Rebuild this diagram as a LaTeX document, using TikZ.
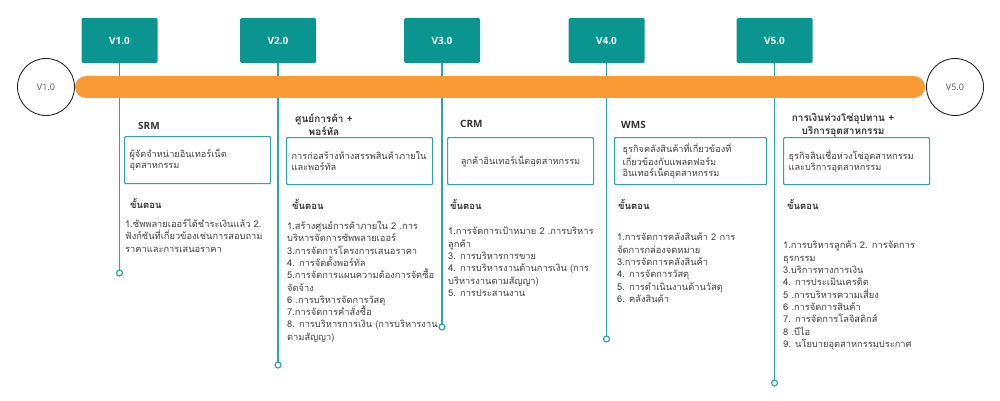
\documentclass[tikz,border=0pt]{standalone}
\usepackage{fontspec}
\setmainfont{Open Sans}
\newfontfamily\thaifont[Script=Thai]{Loma}
\usetikzlibrary{positioning}

\definecolor{tealbox}{HTML}{0A9590}
\definecolor{tealline}{HTML}{2BA6A2}
\definecolor{barorange}{HTML}{F99A32}
\definecolor{bodytext}{HTML}{404040}

\tikzset{
  verbox/.style={fill=tealbox, rounded corners=1.5pt, minimum width=76pt, minimum height=45pt,
    text=white, font=\bfseries\fontsize{10}{12}\selectfont},
  endcircle/.style={circle, draw=black!85, line width=0.9pt, minimum size=57pt,
    text=black!65, font=\fontsize{9}{11}\selectfont},
  stem/.style={draw=tealline, line width=1.2pt},
  enddot/.style={circle, draw=tealline, fill=white, line width=1.2pt, inner sep=0pt, minimum size=6pt},
  topic/.style={inner sep=0pt, align=center, text=black!80, font=\bfseries\fontsize{10}{13}\selectfont},
  thaitopic/.style={topic, font=\thaifont\bfseries\fontsize{10}{13}\selectfont},
  descbox/.style={draw=tealline, line width=1.2pt, rounded corners=1pt, anchor=north west,
    minimum width=146pt, minimum height=47pt, text width=136pt, inner xsep=4pt, align=left,
    text=bodytext, font=\thaifont\fontsize{9.2}{11}\selectfont},
  stephead/.style={anchor=west, inner sep=0pt, text=black!80, font=\thaifont\bfseries\fontsize{9.5}{11}\selectfont},
  steplist/.style={anchor=north west, inner sep=0pt, align=left,
    text=bodytext, font=\thaifont\fontsize{9.3}{12.3}\selectfont},
}

\begin{document}
\begin{tikzpicture}[x=1pt, y=-1pt]
    \useasboundingbox (0,0) rectangle (1000,401);

    %% version boxes on top, stems down to a small open dot
    \node[verbox] (v1) at (119.5,40.5) {V1.0};
    \node[verbox] (v2) at (278,40.5) {V2.0};
    \node[verbox] (v3) at (442,40.5) {V3.0};
    \node[verbox] (v4) at (606.5,40.5) {V4.0};
    \node[verbox] (v5) at (774.5,40.5) {V5.0};

    \coordinate (e1) at (119.5,273);
    \coordinate (e2) at (278,365);
    \coordinate (e3) at (442,327);
    \coordinate (e4) at (606.5,339);
    \coordinate (e5) at (774.5,383);

    \foreach \i in {1,...,5} {
        \draw[stem] (v\i.south) -- (e\i);
        \node[enddot] at (e\i) {};
    }

    %% the orange time bar goes over the stems
    \node[fill=barorange, rounded corners=11pt, minimum width=850pt, minimum height=22pt, inner sep=0pt] (bar) at (500,87) {};
    \node[endcircle] (start) at (46,87) {V1.0};
    \node[endcircle] (finish) at (955,87) {V5.0};

    %% V1.0
    \node[topic, anchor=west] (t1) at (138,126) {SRM};
    \node[descbox] (d1) at (124,136) {ผู้จัดจำหน่ายอินเทอร์เน็ต\\อุตสาหกรรม};
    \node[stephead] (h1) at (130,203) {ขั้นตอน};
    \node[steplist] (s1) at (125,219) {1.ซัพพลายเออร์ได้ชำระเงินแล้ว 2.\\ฟังก์ชันที่เกี่ยวข้องเช่นการสอบถาม\\ราคาและการเสนอราคา};

    %% V2.0
    \node[thaitopic] (t2) at (324,125) {ศูนย์การค้า +\\พอร์ทัล};
    \node[descbox] (d2) at (286,137) {การก่อสร้างห้างสรรพสินค้าภายใน\\และพอร์ทัล};
    \node[stephead] (h2) at (292,204) {ขั้นตอน};
    \node[steplist] (s2) at (287,221) {1.สร้างศูนย์การค้าภายใน 2 .การ\\บริหารจัดการซัพพลายเออร์\\3.การจัดการโครงการเสนอราคา\\4. การจัดตั้งพอร์ทัล\\5.การจัดการแผนความต้องการจัดซื้อ\\จัดจ้าง\\6 .การบริหารจัดการวัสดุ\\7.การจัดการคำสั่งซื้อ\\8. การบริหารการเงิน (การบริหารงาน\\ตามสัญญา)};

    %% V3.0
    \node[topic, anchor=west] (t3) at (460,124) {CRM};
    \node[descbox, align=center] (d3) at (447,137) {ลูกค้าอินเทอร์เน็ตอุตสาหกรรม};
    \node[stephead] (h3) at (450,204) {ขั้นตอน};
    \node[steplist] (s3) at (448,227) {1.การจัดการเป้าหมาย 2 .การบริหาร\\ลูกค้า\\3. การบริหารการขาย\\4. การบริหารงานด้านการเงิน (การ\\บริหารงานตามสัญญา)\\5. การประสานงาน};

    %% V4.0
    \node[topic, anchor=west] (t4) at (621,125) {WMS};
    \node[descbox, inner xsep=8pt] (d4) at (614,137) {ธุรกิจคลังสินค้าที่เกี่ยวข้องที่\\เกี่ยวข้องกับแพลตฟอร์ม\\อินเทอร์เน็ตอุตสาหกรรม};
    \node[stephead] (h4) at (618,204) {ขั้นตอน};
    \node[steplist] (s4) at (617,233) {1.การจัดการคลังสินค้า 2 การ\\จัดการกล่องจดหมาย\\3.การจัดการคลังสินค้า\\4. การจัดการวัสดุ\\5. การดำเนินงานด้านวัสดุ\\6. คลังสินค้า};

    %% V5.0
    \node[thaitopic] (t5) at (843,125.5) {การเงินห่วงโซ่อุปทาน +\\บริการอุตสาหกรรม};
    \node[descbox] (d5) at (783,137) {ธุรกิจสินเชื่อห่วงโซ่อุตสาหกรรม\\และบริการอุตสาหกรรม};
    \node[stephead] (h5) at (787,204) {ขั้นตอน};
    \node[steplist] (s5) at (783,241) {1.การบริหารลูกค้า 2. การจัดการ\\ธุรกรรม\\3.บริการทางการเงิน\\4. การประเมินเครดิต\\5 .การบริหารความเสี่ยง\\6 .การจัดการสินค้า\\7. การจัดการโลจิสติกส์\\8 .บีไอ\\9. นโยบายอุตสาหกรรมประกาศ};
\end{tikzpicture}
\end{document}
